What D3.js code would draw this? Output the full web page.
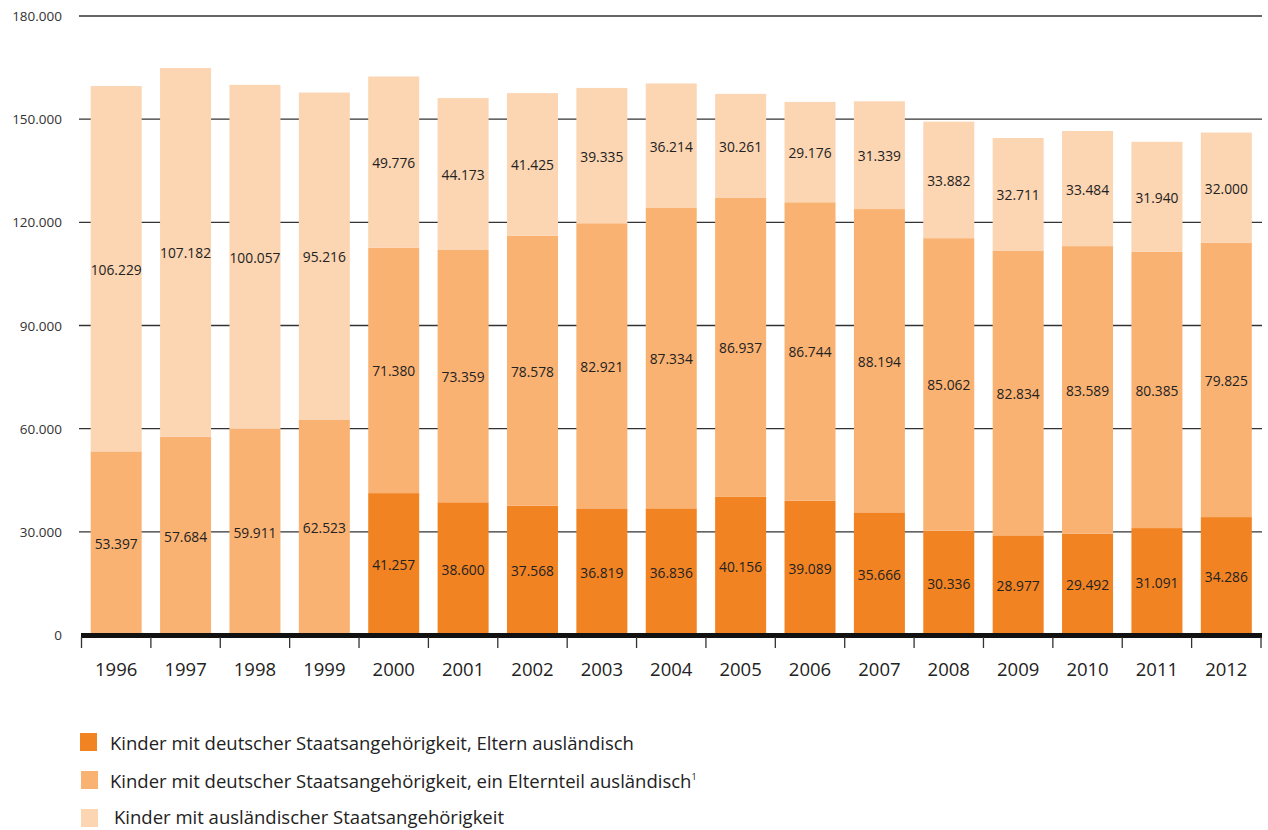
<!DOCTYPE html>
<html><head><meta charset="utf-8">
<script src="https://cdn.jsdelivr.net/npm/d3@7"></script>
<style>
body{margin:0;background:#fff;}
text{font-family:"Open Sans","Noto Sans",sans-serif;}
</style></head>
<body><svg id="c" width="1268" height="830"></svg>
<script>
const years = ["1996","1997","1998","1999","2000","2001","2002","2003","2004","2005","2006","2007","2008","2009","2010","2011","2012"];
const elternAuslaendisch = [null,null,null,null,41257,38600,37568,36819,36836,40156,39089,35666,30336,28977,29492,31091,34286];
const einElternteil = [53397,57684,59911,62523,71380,73359,78578,82921,87334,86937,86744,88194,85062,82834,83589,80385,79825];
const auslaendisch = [106229,107182,100057,95216,49776,44173,41425,39335,36214,30261,29176,31339,33882,32711,33484,31940,32000];
const yTicks = [0,30000,60000,90000,120000,150000,180000];
const seriesNames = ["Kinder mit deutscher Staatsangehörigkeit, Eltern ausländisch","Kinder mit deutscher Staatsangehörigkeit, ein Elternteil ausländisch","Kinder mit ausländischer Staatsangehörigkeit"];
const colors = ["#F28322","#FAB273","#FCD5B2"];

const svg = d3.select("#c");
const x = d3.scaleBand().domain(years).range([81.5,1261]).paddingInner(0.265).paddingOuter(0.1325);
const y = d3.scaleLinear().domain([0,180000]).range([635,16]);
const fmt = v => d3.format(",")(v).replace(/,/g,".");

// gridlines
svg.append("g").selectAll("line").data(yTicks.filter(d=>d>0)).join("line")
  .attr("x1",79).attr("x2",1262).attr("y1",d=>y(d)).attr("y2",d=>y(d))
  .attr("stroke","#333").attr("stroke-width",1.3);
// y labels
svg.append("g").selectAll("text").data(yTicks).join("text")
  .attr("x",62).attr("y",d=>y(d)+5).attr("text-anchor","end")
  .attr("font-size",13.5).attr("fill","#333").text(d=>fmt(d));

// stacks
const rows = years.map((yr,i)=>({year:yr,s:[elternAuslaendisch[i]||0,einElternteil[i],auslaendisch[i]]}));
const g = svg.append("g");
rows.forEach(r=>{
  let base=0;
  r.s.forEach((v,k)=>{
    if(!v) return;
    g.append("rect").attr("x",x(r.year)).attr("width",x.bandwidth())
      .attr("y",y(base+v)).attr("height",y(base)-y(base+v)).attr("fill",colors[k]);
    g.append("text").attr("x",x(r.year)+x.bandwidth()/2).attr("y",y(base+v/2)+6)
      .attr("text-anchor","middle").attr("font-size",13.8).attr("fill","#222").text(fmt(v));
    base+=v;
  });
});

// baseline & ticks
svg.append("line").attr("x1",81).attr("x2",1262).attr("y1",635.5).attr("y2",635.5)
  .attr("stroke","#111").attr("stroke-width",5);
const bounds = years.map(yr=>x(yr)-x.step()*x.paddingInner()/2).concat([1261]);
svg.append("g").selectAll("line").data(bounds).join("line")
  .attr("x1",d=>d).attr("x2",d=>d).attr("y1",637).attr("y2",648)
  .attr("stroke","#333").attr("stroke-width",1.3);
svg.append("g").selectAll("text").data(years).join("text")
  .attr("x",d=>x(d)+x.bandwidth()/2).attr("y",676).attr("text-anchor","middle")
  .attr("font-size",18.5).attr("fill","#222").text(d=>d);

// legend
const ly=[742,780,818];
const lg = svg.append("g");
seriesNames.forEach((n,i)=>{
  lg.append("rect").attr("x",i==0?80:81).attr("y",ly[i]-9).attr("width",17).attr("height",18).attr("fill",colors[i]);
  const t = lg.append("text").attr("x",i==2?114:110).attr("y",i==2?ly[i]+6:ly[i]+8).attr("font-size",18.5).attr("fill","#222").text(n);
  if(i==1) t.append("tspan").attr("font-size",9).attr("dy",-8).text("1");
});
</script></body></html>
